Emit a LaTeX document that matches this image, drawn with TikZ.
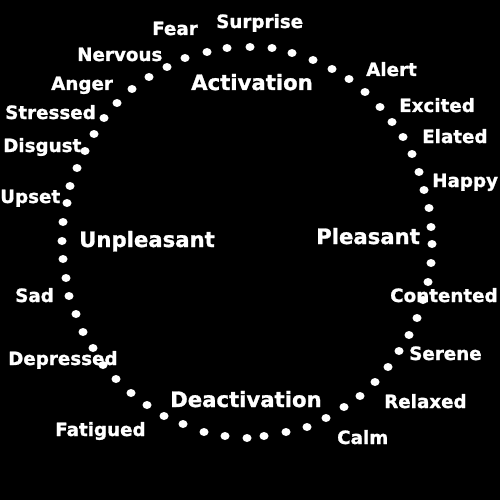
\documentclass[tikz,border=0pt]{standalone}
\usepackage{fontspec}
\setmainfont{DejaVu Sans}
\newfontfamily\heavyfont{DejaVu Sans Bold}[FakeBold=1.2]
\begin{document}
\begin{tikzpicture}[x=1pt,y=-1pt,
  lab/.style={text=white, inner sep=0pt, anchor=base west, font=\heavyfont\fontsize{18.3}{20}\selectfont},
  axis/.style={text=white, inner sep=0pt, anchor=base west, font=\heavyfont\fontsize{21.2}{23}\selectfont},
  dotstyle/.style={fill=white}]
\fill[black] (0,0) rectangle (500,500);
\useasboundingbox (0,0) rectangle (500,500);
% axis labels
\node[axis] (act) at (191,90) {Activation};
\node[axis] (dea) at (170,407) {Deactivation};
\node[axis] (unp) at (79,247) {Unpleasant};
\node[axis] (ple) at (316,244) {Pleasant};
% emotion labels
\node[lab] (fear) at (152,35) {Fear};
\node[lab] (surp) at (216,28) {Surprise};
\node[lab] (nerv) at (77,61) {Nervous};
\node[lab] (ang) at (51,90) {Anger};
\node[lab] (str) at (5,119) {Stressed};
\node[lab] (dis) at (3,152) {Disgust};
\node[lab] (ups) at (0,203) {Upset};
\node[lab] (sad) at (15,302) {Sad};
\node[lab] (dep) at (8,365) {Depressed};
\node[lab] (fat) at (55,436) {Fatigued};
\node[lab] (calm) at (337,444) {Calm};
\node[lab] (rel) at (384,408) {Relaxed};
\node[lab] (ser) at (409,360) {Serene};
\node[lab] (con) at (390,302) {Contented};
\node[lab] (hap) at (432,187) {Happy};
\node[lab] (ela) at (422,143) {Elated};
\node[lab] (exc) at (399,112) {Excited};
\node[lab] (ale) at (366,76) {Alert};
% dots
\foreach \p in {(250,47),(227,48),(207,52),(185,58),(167,67),(149,77),(132,89),(117,103),
  (104,118),(94,134),(85,151),(77,168),(70,186),(67,203),(63,222),(62,241),
  (63,259),(66,278),(69,296),(76,314),(83,332),(93,348),(103,365),(116,379),
  (131,393),(147,405),(164,416),(183,424),(204,432),(225,436),(247,438),
  (264,436),(286,432),(307,427),(326,418),(344,407),(360,396),(375,382),
  (388,367),(399,351),(409,335),(417,318),(423,300),(428,282),(431,263),
  (432,244),(431,227),(429,208),(424,190),(419,172),(412,154),(403,137),
  (392,122),(380,107),(365,92),(349,79),(332,69),(313,60),(292,53),(272,48)}
  \fill[dotstyle] \p ellipse [x radius=4.5, y radius=4.0];
\end{tikzpicture}
\end{document}
